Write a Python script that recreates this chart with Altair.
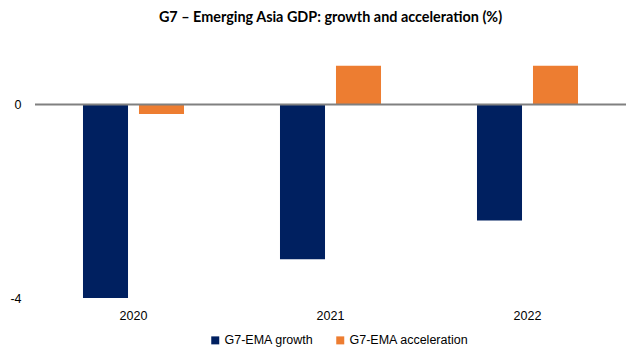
import altair as alt
import pandas as pd

years = ["2020", "2021", "2022"]
series = ["G7-EMA growth", "G7-EMA acceleration"]
growth = [-4.0, -3.2, -2.4]
acceleration = [-0.2, 0.8, 0.8]
colors = ["#002060", "#ED7D31"]

rows = []
for i, y in enumerate(years):
    rows.append({"year": y, "series": series[0], "value": growth[i]})
    rows.append({"year": y, "series": series[1], "value": acceleration[i]})
df = pd.DataFrame(rows)

font = "Liberation Sans"

bars = alt.Chart(df).mark_bar().encode(
    x=alt.X("year:N", sort=years,
            scale=alt.Scale(paddingInner=0, paddingOuter=0),
            axis=alt.Axis(title=None, labelAngle=0, domain=False, ticks=False,
                          labelFont=font, labelFontSize=12.5, labelColor="#000000",
                          labelPadding=11)),
    xOffset=alt.XOffset("series:N", sort=series,
                        scale=alt.Scale(paddingInner=0.196, paddingOuter=0.857)),
    y=alt.Y("value:Q", scale=alt.Scale(domain=[-4, 1], nice=False),
            axis=alt.Axis(title=None, values=[-4, 0], grid=False, domain=False,
                          ticks=False, labelFont=font, labelFontSize=12.5,
                          labelColor="#000000", labelPadding=14,
                          labelExpr="datum.value < 0 ? '-' + abs(datum.value) : '' + datum.value")),
    color=alt.Color("series:N", sort=series,
                    scale=alt.Scale(domain=series, range=colors),
                    legend=alt.Legend(title=None, orient="none", direction="horizontal",
                                      legendX=174, legendY=278,
                                      symbolType="square", symbolSize=64,
                                      symbolStrokeWidth=0, columnPadding=20,
                                      labelFont=font, labelFontSize=12.5,
                                      labelColor="#000000", labelOffset=3)),
)

zero = alt.Chart(pd.DataFrame({"z": [0]})).mark_rule(color="#808080", strokeWidth=2).encode(
    y=alt.Y("z:Q")
)

chart = alt.layer(bars, zero).properties(
    width=591,
    height=242,
    title=alt.TitleParams("G7 – Emerging Asia GDP: growth and acceleration (%)",
                          font="Lato", fontSize=14.4, fontWeight="bold",
                          color="#000000", anchor="middle", offset=31),
    autosize=alt.AutoSizeParams(type="none"),
    padding={"left": 27, "top": 48, "right": 3, "bottom": 54},
).configure_view(stroke=None)

chart.save("out.html", embed_options={"renderer": "svg", "actions": False})
